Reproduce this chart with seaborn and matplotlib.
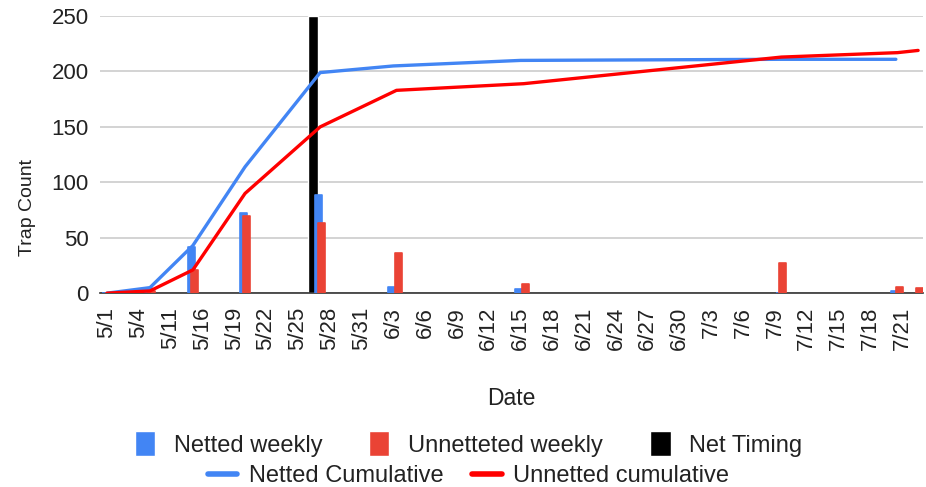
import numpy as np
import matplotlib
matplotlib.use("Agg")
import matplotlib.pyplot as plt
import seaborn as sns
from matplotlib.patches import Patch
from matplotlib.lines import Line2D

# tick labels (evenly spaced on the axis)
tick_labels = ["5/1", "5/4", "5/11", "5/16", "5/19", "5/22", "5/25", "5/28", "5/31",
               "6/3", "6/6", "6/9", "6/12", "6/15", "6/18", "6/21", "6/24", "6/27",
               "6/30", "7/3", "7/6", "7/9", "7/12", "7/15", "7/18", "7/21"]

# netted traps: position on the axis (in tick units), weekly and cumulative counts
net_x = [0, 1.35, 2.7, 4.34, 6.7, 9.0, 13.0, 21.2, 24.8]
net_weekly = [0, 5, 42, 72, 89, 6, 4, 0, 2]
net_cum = [0, 5, 43, 114, 199, 205, 210, 211, 211]

# unnetted traps
unnet_x = [0, 1.35, 2.7, 4.34, 6.7, 9.1, 13.1, 21.2, 24.85, 25.5]
unnet_weekly = [0, 2, 21, 70, 63, 36, 8, 27, 6, 5]
unnet_cum = [0, 2, 21, 90, 150, 183, 189, 213, 217, 219]

# net timing marker
net_timing_x = [6.48]
net_timing_y = [250]

blue = "#4285F4"
red_bar = "#EA4335"
red_line = "#FF0000"
text_col = "#222222"

sns.set_style("white")
plt.rcParams['font.family'] = ['Liberation Sans', 'DejaVu Sans']

fig = plt.figure(figsize=(9.26, 4.87), dpi=100)
ax = fig.add_axes([0.108, 0.398, 0.889, 0.569])

ax.bar(net_timing_x, net_timing_y, width=0.31, color="black", zorder=2)
ax.bar(np.array(net_x) - 0.05, net_weekly, width=0.22, color=blue, zorder=3,
       edgecolor=blue, linewidth=1.2, joinstyle="round")
ax.bar(np.array(unnet_x) + 0.05, unnet_weekly, width=0.22, color=red_bar, zorder=3,
       edgecolor=red_bar, linewidth=1.2, joinstyle="round")

sns.lineplot(x=net_x, y=net_cum, color=blue, linewidth=2.4, ax=ax, zorder=4)
sns.lineplot(x=unnet_x, y=unnet_cum, color=red_line, linewidth=2.4, ax=ax, zorder=5)

ax.set_xlim(-0.22, 25.66)
ax.set_ylim(0, 250)
ax.set_yticks([0, 50, 100, 150, 200, 250])
ax.set_xticks(range(len(tick_labels)))
ax.set_xticklabels(tick_labels, rotation=90)
ax.tick_params(axis="both", length=0, labelsize=16, colors=text_col)
ax.tick_params(axis="x", pad=10)
ax.tick_params(axis="y", pad=8)
ax.grid(axis="y", color="#cccccc", linewidth=1.2, zorder=0)
ax.set_axisbelow(True)
for s in ["top", "right", "left"]:
    ax.spines[s].set_visible(False)
ax.spines["bottom"].set_color("#333333")
ax.spines["bottom"].set_linewidth(1.2)

ax.set_ylabel("Trap Count", fontsize=14, color=text_col)
ax.yaxis.set_label_coords(-0.078, 0.31)
ax.set_xlabel("Date", fontsize=16.5, color=text_col)
ax.xaxis.set_label_coords(0.5, -0.34)

h1 = [Patch(facecolor=blue, label="Netted weekly"),
      Patch(facecolor=red_bar, label="Unnetteted weekly"),
      Patch(facecolor="black", label="Net Timing")]
h2 = [Line2D([0], [0], color=blue, linewidth=4, label="Netted Cumulative"),
      Line2D([0], [0], color=red_line, linewidth=4, label="Unnetted cumulative")]
leg1 = fig.legend(handles=h1, loc="center", bbox_to_anchor=(0.506, 0.088), ncol=3,
                  frameon=False, fontsize=17, handlelength=0.85, handleheight=1.25,
                  columnspacing=2.0, handletextpad=0.8, borderpad=0, borderaxespad=0)
for t in leg1.get_texts():
    t.set_color(text_col)
leg2 = fig.legend(handles=h2, loc="center", bbox_to_anchor=(0.506, 0.022), ncol=2,
                  frameon=False, fontsize=17, handlelength=1.25,
                  columnspacing=1.2, handletextpad=0.5, borderpad=0, borderaxespad=0)
for t in leg2.get_texts():
    t.set_color(text_col)

fig.savefig("out.png", dpi=100)
